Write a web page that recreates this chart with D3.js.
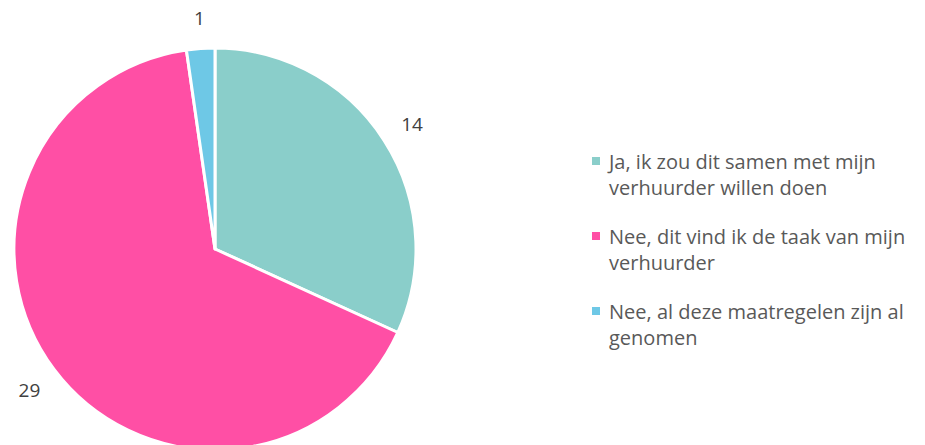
<!DOCTYPE html>
<html><head><meta charset="utf-8">
<script src="https://cdn.jsdelivr.net/npm/d3@7"></script>
<style>body{margin:0;background:#fff}svg{display:block}</style>
</head><body>
<svg id="c" width="925" height="445"></svg>
<script>
const categories = [
  "Ja, ik zou dit samen met mijn verhuurder willen doen",
  "Nee, dit vind ik de taak van mijn verhuurder",
  "Nee, al deze maatregelen zijn al genomen"
];
const values = [14, 29, 1];
const legendLines = [
  ["Ja, ik zou dit samen met mijn", "verhuurder willen doen"],
  ["Nee, dit vind ik de taak van mijn", "verhuurder"],
  ["Nee, al deze maatregelen zijn al", "genomen"]
];
const colors = ["#8ACECA", "#FF4FA5", "#6EC8E6"];

const svg = d3.select("#c");
const cx = 215, cy = 249, r = 201;
const font = "'Open Sans', sans-serif";
const color = d3.scaleOrdinal().domain(categories).range(colors);
const pie = d3.pie().sort(null).value(d => d.v);
const data = pie(categories.map((c, i) => ({c, v: values[i]})));
const arc = d3.arc().innerRadius(0).outerRadius(r);
const labelArc = d3.arc().innerRadius(233).outerRadius(233);

const g = svg.append("g").attr("transform", `translate(${cx},${cy})`);
g.selectAll("path").data(data).join("path")
  .attr("d", arc).attr("fill", d => color(d.data.c))
  .attr("stroke", "#fff").attr("stroke-width", 3).attr("stroke-linejoin", "round");
g.selectAll("text").data(data).join("text")
  .attr("x", d => labelArc.centroid(d)[0] + 1).attr("y", d => labelArc.centroid(d)[1] + 1)
  .attr("text-anchor", "middle").attr("dominant-baseline", "central")
  .attr("font-family", font).attr("font-size", 19).attr("fill", "#404040")
  .text(d => d.data.v);

const lg = svg.append("g");
categories.forEach((c, i) => {
  const y0 = 161 + i * 75;
  lg.append("rect").attr("x", 592).attr("y", y0 - 4).attr("width", 8).attr("height", 8)
    .attr("fill", color(c));
  legendLines[i].forEach((t, j) => {
    lg.append("text").attr("x", 609).attr("y", y0 + j * 26.5)
      .attr("dominant-baseline", "central")
      .attr("font-family", font).attr("font-size", 20).attr("fill", "#595959").text(t);
  });
});
</script>
</body></html>
